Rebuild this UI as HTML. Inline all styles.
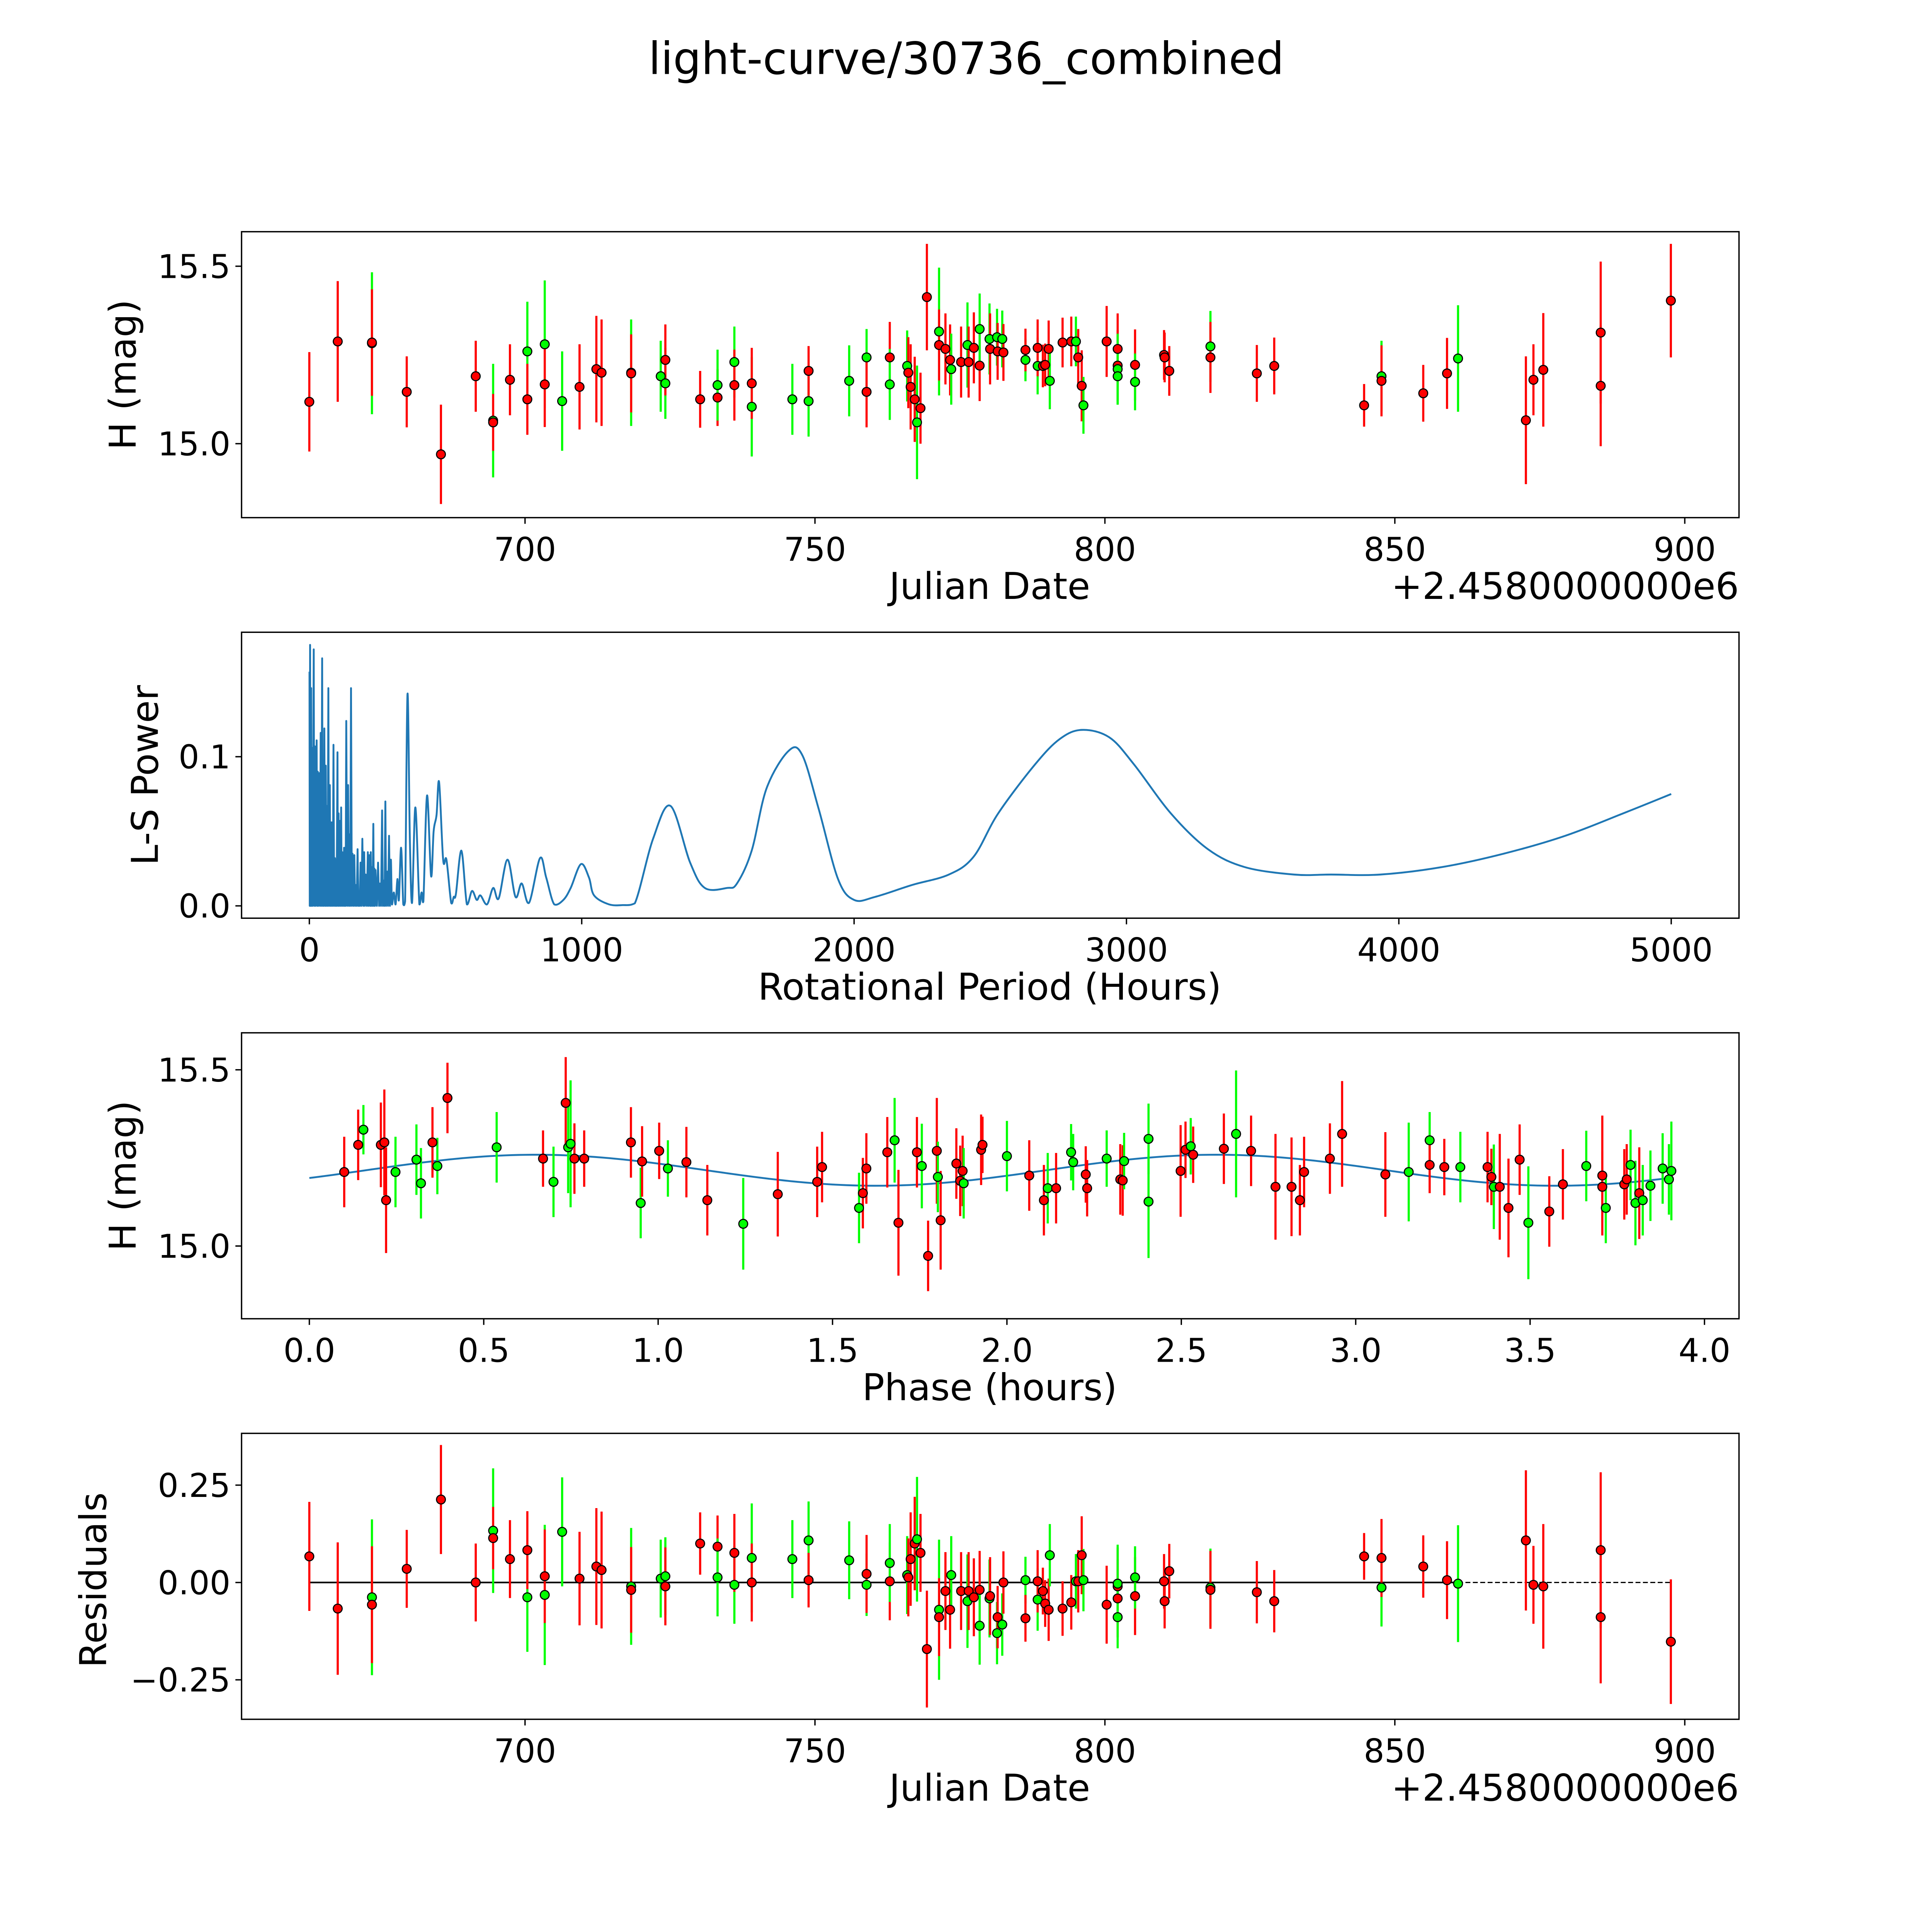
<!DOCTYPE html>
<html><head><meta charset="utf-8"><style>
html,body{margin:0;padding:0;background:#fff;overflow:hidden}
svg{display:block}
text{font-family:"DejaVu Sans","Liberation Sans",sans-serif;fill:#000}
</style></head><body>
<svg id="fig" xmlns="http://www.w3.org/2000/svg" width="5400" height="5400" viewBox="0 0 1693 1693">
<rect x="0" y="0" width="1693" height="1693" fill="#fff"/>
<text x="784" y="60" font-size="36" text-anchor="middle">light-curve/30736_combined</text>
</svg>
<script>
// ---------- Panel 1: light curve ----------
const lcDates=[662.8,667.7,673.6,673.6,679.6,685.5,691.5,694.5,694.5,697.4,700.4,700.4,703.4,703.4,706.4,709.4,712.3,713.2,718.3,718.3,723.4,724.2,724.2,730.2,733.2,733.2,736.1,736.1,739.1,739.1,746.1,748.9,748.9,755.9,758.9,758.9,762.9,762.9,765.9,766.1,766.5,767.2,767.6,768.2,769.3,771.4,771.4,772.5,773.3,773.5,775.2,776.3,776.5,777.4,778.4,778.4,780.1,780.2,781.4,781.5,782.3,782.5,786.3,786.3,788.4,788.4,789.3,789.7,790.3,790.5,792.7,794.2,795,795.4,796,796.3,800.3,802.2,802.2,802.2,802.2,805.2,805.2,810.2,810.3,811.1,818.2,818.2,826.2,829.2,844.7,847.7,847.7,854.9,859,860.9,872.6,873.9,875.6,885.5,885.5,897.6];
const lcMags=[15.118,15.288,15.283,15.285,15.146,14.97,15.19,15.065,15.06,15.18,15.26,15.125,15.28,15.167,15.12,15.16,15.21,15.2,15.2,15.198,15.19,15.17,15.236,15.125,15.13,15.165,15.23,15.165,15.104,15.17,15.125,15.12,15.205,15.177,15.243,15.146,15.243,15.167,15.219,15.2,15.16,15.125,15.06,15.1,15.413,15.316,15.278,15.267,15.236,15.21,15.23,15.278,15.23,15.27,15.22,15.323,15.295,15.267,15.3,15.26,15.295,15.257,15.236,15.264,15.219,15.27,15.219,15.222,15.267,15.177,15.285,15.288,15.288,15.243,15.163,15.108,15.288,15.22,15.267,15.21,15.19,15.222,15.174,15.25,15.243,15.205,15.274,15.243,15.198,15.219,15.108,15.19,15.177,15.142,15.198,15.24,15.066,15.18,15.208,15.313,15.163,15.403];
const lcErrs=[.14,.17,.2,.15,.1,.14,.1,.16,.08,.1,.14,.1,.18,.12,.14,.12,.15,.15,.15,.11,.1,.1,.1,.08,.08,.1,.1,.1,.14,.1,.1,.1,.07,.1,.08,.1,.1,.1,.1,.1,.12,.12,.16,.1,.15,.18,.1,.1,.1,.1,.1,.12,.1,.1,.1,.1,.1,.1,.08,.08,.08,.08,.06,.06,.08,.08,.06,.06,.08,.08,.07,.07,.07,.08,.1,.08,.1,.1,.1,.1,.08,.1,.08,.07,.07,.07,.1,.1,.08,.08,.06,.1,.1,.08,.1,.15,.18,.1,.16,.2,.17,.16];
const lcFilters="rrgrrrrgrrgrgrgrrrgrggrrrggrgrggrggrrggrrrgrrgrrrgrgrrrggrgrgrgrgrrrrgrrgrrgrrrggrgrrrgrrrrgrrrgrrrrrr".split('');
const residuals=[.067,-.067,-.038,-.057,.035,.213,0,.133,.114,.06,-.038,.083,-.032,.016,.13,.01,.041,.032,-.01,-.019,.01,.016,-.01,.1,.092,.013,-.006,.076,.063,0,.06,.108,.006,.057,-.006,.022,.003,.05,.019,.013,.06,.1,.111,.076,-.171,-.07,-.089,-.022,-.07,.019,-.022,-.048,-.022,-.038,-.019,-.111,-.041,-.035,-.13,-.089,-.108,0,.006,-.092,-.044,.003,-.022,-.054,-.07,.07,-.067,-.051,.003,.003,.07,.006,-.057,-.01,-.041,-.003,-.089,-.035,.013,.003,-.048,.029,-.013,-.019,-.025,-.048,.067,-.013,.063,.041,.006,-.003,.108,-.006,-.01,.083,-.089,-.152];
// ---------- Panel 2: periodogram ----------
const lsPeriods=[0.5,1.5,2.7,4.5,6.7,8,9.4,12,16.1,18,20.1,23,26.8,29,30.9,33,36.2,39,41.6,44,47,49,51,53,55,58,60.4,62,64.4,67,69.8,72,75.2,77,79.2,81,83.2,86,88.6,91,93.9,96,98,100,103.3,105,107.4,109,111.4,114,116.8,119,120.8,124,127.5,129,131.5,133,135.5,139,142.3,145,147.6,150,153,156,158.4,162,165.1,168,170.4,174,177.1,180,182.5,185,187.9,191,194.6,198,201.3,204,206.7,211,214.7,217,220.1,223,225.5,227,229.5,232,234.9,237,238.9,241,242.9,248,252.3,256,259,263,267.1,270,273.8,276,279.1,282,285.8,289,292.6,296,299.3,303.3,310,316.7,323.4,328.8,336.8,344.9,351.6,360.3,369.1,377.1,389.2,403.9,412,418.7,432.1,446.9,456.3,467,476.4,491.2,503.3,520.7,530.1,538.1,558.3,578.4,597.2,614.6,628.1,652.2,675,695.2,727.4,756.9,779.7,806.5,846.8,869.6,899.1,932.7,959.5,997.1,1026.6,1045.4,1100,1150,1195,1262,1326,1398,1452,1534,1570,1624,1679,1760,1810,1870,1941,2000,2077,2213,2348,2439,2529,2665,2756,2837,2937,3027,3163,3299,3434,3615,3751,3932,4158,4385,4611,4837,5000];
const lsPower=[0.157,0.0,0.175,0.0,0.146,0.0,0.106,0.0,0.172,0.0,0.107,0.0,0.111,0.0,0.090,0.0,0.089,0.0,0.116,0.0,0.166,0.0,0.095,0.0,0.119,0.0,0.094,0.0,0.067,0.0,0.146,0.0,0.081,0.0,0.056,0.0,0.056,0.0,0.108,0.0,0.032,0.0,0.031,0.0,0.103,0.0,0.062,0.0,0.057,0.0,0.066,0.0,0.036,0.0,0.039,0.0,0.031,0.0,0.124,0.0,0.081,0.0,0.048,0.0,0.146,0.0,0.035,0.0,0.034,0.0,0.014,0.0,0.038,0.0,0.008,0.0,0.029,0.0,0.045,0.0,0.036,0.0,0.021,0.0,0.036,0.0,0.034,0.0,0.036,0.0,0.026,0.0,0.055,0.0,0.025,0.0,0.024,0.0,0.029,0.0,0.015,0.0,0.064,0.0,0.017,0.0,0.070,0.0,0.023,0.0,0.047,0.0,0.031,0.001,0.009,0.001,0.018,0.004,0.039,0.001,0.003,0.142,0.044,0.002,0.066,0.001,0.009,0.003,0.074,0.020,0.050,0.061,0.083,0.031,0.031,0.002,0.006,0.008,0.037,0.001,0.010,0.004,0.007,0.001,0.012,0.005,0.031,0.006,0.015,0.002,0.032,0.019,0.001,0.004,0.012,0.028,0.019,0.007,0.001,0.0005,0.0017,0.045,0.067,0.029,0.012,0.012,0.015,0.037,0.079,0.104,0.101,0.065,0.018,0.004,0.006,0.014,0.021,0.033,0.062,0.095,0.112,0.118,0.113,0.095,0.062,0.038,0.026,0.021,0.021,0.021,0.026,0.035,0.047,0.063,0.075];
const lsSpikyLimit=300; // periods below this are drawn as raw spikes, above as smooth curve
// ---------- Panel 3: phased ----------
const phases=[.10,.14,.155,.205,.215,.22,.247,.307,.32,.353,.367,.396,.537,.67,.70,.735,.742,.749,.76,.788,.922,.95,.954,1.003,1.028,1.081,1.141,1.244,1.343,1.456,1.47,1.576,1.587,1.597,1.657,1.678,1.689,1.742,1.756,1.774,1.799,1.802,1.81,1.855,1.866,1.873,1.876,1.926,1.93,2.0,2.064,2.106,2.117,2.141,2.184,2.19,2.226,2.23,2.286,2.325,2.332,2.336,2.406,2.406,2.498,2.512,2.527,2.534,2.622,2.657,2.7,2.77,2.816,2.84,2.852,2.926,2.961,3.085,3.152,3.212,3.212,3.254,3.3,3.378,3.389,3.396,3.413,3.438,3.47,3.495,3.555,3.594,3.661,3.707,3.707,3.717,3.77,3.777,3.788,3.802,3.813,3.823,3.845,3.88,3.898,3.905];
const phMags=[15.21,15.287,15.33,15.287,15.294,15.13,15.21,15.245,15.178,15.294,15.227,15.42,15.28,15.248,15.182,15.406,15.28,15.29,15.248,15.248,15.294,15.122,15.24,15.27,15.22,15.238,15.13,15.063,15.147,15.182,15.224,15.108,15.15,15.22,15.266,15.3,15.066,15.266,15.227,14.972,15.27,15.196,15.073,15.234,15.185,15.213,15.178,15.273,15.287,15.255,15.2,15.13,15.164,15.164,15.266,15.238,15.203,15.164,15.248,15.189,15.186,15.241,15.304,15.126,15.213,15.273,15.283,15.259,15.276,15.318,15.27,15.168,15.168,15.13,15.21,15.248,15.318,15.203,15.21,15.3,15.23,15.224,15.224,15.224,15.196,15.168,15.168,15.108,15.245,15.066,15.098,15.175,15.227,15.2,15.168,15.108,15.175,15.189,15.23,15.122,15.15,15.13,15.171,15.22,15.189,15.213];
const phErrs=[.1,.1,.07,.12,.15,.15,.1,.1,.1,.1,.08,.1,.1,.08,.1,.13,.13,.18,.1,.08,.1,.1,.1,.08,.08,.1,.1,.13,.12,.1,.1,.1,.1,.1,.1,.12,.15,.1,.12,.1,.15,.1,.14,.1,.1,.1,.1,.1,.08,.1,.1,.1,.1,.1,.08,.08,.08,.08,.08,.1,.1,.08,.1,.16,.13,.08,.08,.08,.1,.18,.1,.15,.14,.1,.1,.1,.15,.12,.14,.08,.08,.08,.1,.1,.08,.12,.15,.14,.1,.16,.1,.1,.1,.17,.1,.1,.1,.1,.1,.12,.13,.1,.1,.1,.1,.14];
const phFilters="rrgrrrgggrgrgrgrggrrrgrrgrrgrrrgrrrgrrgrrgrrrrgrrgrrgrggrrgrrgggrrgrrgrrrrrrrrggrrgrrgrrrgrrgrrgrrggrgggggr".split('');
const modelParams=[15.215,0.044,1.95,0.1625]; // mean, amplitude, period, phase offset
const modelSamples=[0,4];

const NS="http://www.w3.org/2000/svg";
const svg=document.getElementById('fig');
function mk(tag,attrs,parent){const e=document.createElementNS(NS,tag);for(const k in attrs)e.setAttribute(k,attrs[k]);(parent||svg).appendChild(e);return e;}
function lin(d0,d1,p0,p1){return v=>p0+(v-d0)*(p1-p0)/(d1-d0);}
const COL={r:'#ff0000',g:'#00ff00'};
const TICK_FS=26.5, LABEL_FS=30;

function axesBox(name){
  const g=mk('g',{});
  
  
  return g;
}
function frame(g,x0,y0,x1,y1){
  const r=mk('rect',{x:x0,y:y0,width:x1-x0,height:y1-y0,fill:'none',stroke:'#000','stroke-width':1.1},g);
  
  
}
function xTicks(g,vals,labels,sx,yb){
  vals.forEach((v,i)=>{const x=sx(v);
    mk('line',{x1:x,x2:x,y1:yb,y2:yb+5,stroke:'#000','stroke-width':1.1},g);
    const t=mk('text',{x:x,y:yb+35,'font-size':TICK_FS,'text-anchor':'middle'},g);
    
    
    t.textContent=labels[i];});
}
function yTicks(g,vals,labels,sy,xl){
  vals.forEach((v,i)=>{const y=sy(v);
    mk('line',{x1:xl-5,x2:xl,y1:y,y2:y,stroke:'#000','stroke-width':1.1},g);
    const t=mk('text',{x:xl-9,y:y+9.5,'font-size':TICK_FS,'text-anchor':'end'},g);
    
    
    t.textContent=labels[i];});
}
function xLabel(g,txt,x,y,anchor,name){const t=mk('text',{x:x,y:y,'font-size':LABEL_FS,'text-anchor':anchor||'middle'},g);
  
  
  t.textContent=txt;}
function yLabel(g,txt,x,y){const t=mk('text',{x:0,y:0,'font-size':LABEL_FS,'text-anchor':'middle',transform:`translate(${x},${y}) rotate(-90)`},g);
  
  
  t.textContent=txt;}
function scatter(g,xs,ys,es,cs,sx,sy,clip){
  const n=Math.min(xs.length,ys.length);
  const bars=mk('g',{'clip-path':clip},g);
  for(let i=0;i<n;i++){const x=sx(xs[i]),e=es[i]||0.1;
    const l=mk('line',{x1:x,x2:x,y1:sy(ys[i]-e),y2:sy(ys[i]+e),stroke:COL[cs[i]||'r'],'stroke-width':1.75},bars);
    
    }
  const pts=mk('g',{'clip-path':clip},g);
  for(let i=0;i<n;i++){
    const c=mk('circle',{cx:sx(xs[i]),cy:sy(ys[i]),r:3.6,fill:COL[cs[i]||'r'],stroke:'#000','stroke-width':0.9},pts);
    
    }
}
function clipRect(id,x0,y0,x1,y1){const d=mk('defs',{});const cp=mk('clipPath',{id:id},d);mk('rect',{x:x0,y:y0,width:x1-x0,height:y1-y0},cp);return `url(#${id})`;}

const X0=196,X1=1411;
const dateX=lin(700,900,426,1367);
// Panel 1
{const y0=188,y1=420;const sy=lin(15,15.5,360,216);
 const g=axesBox('light-curve-panel');
 const cl=clipRect('c1',X0,y0,X1,y1);
 scatter(g,lcDates,lcMags,lcErrs,lcFilters,dateX,sy,cl);
 frame(g,X0,y0,X1,y1);
 xTicks(g,[700,750,800,850,900],['700','750','800','850','900'],dateX,y1);
 yTicks(g,[15.0,15.5],['15.0','15.5'],sy,X0);
 xLabel(g,'Julian Date',803,486);
 xLabel(g,'+2.4580000000e6',X1,486,'end','x-offset-text');
 yLabel(g,'H (mag)',110,304);}
// Panel 2
{const y0=513,y1=745;const sx=lin(0,5000,251,1356),sy=lin(0,0.1,735,614);
 const g=axesBox('periodogram-panel');
 const n=Math.min(lsPeriods.length,lsPower.length);
 const P=[];for(let i=0;i<n;i++)P.push([sx(lsPeriods[i]),sy(lsPower[i]),lsPeriods[i]]);
 let d='M'+P[0][0].toFixed(2)+','+P[0][1].toFixed(2);
 for(let i=1;i<n;i++){
   if(P[i][2]<=lsSpikyLimit){d+='L'+P[i][0].toFixed(2)+','+P[i][1].toFixed(2);continue;}
   const p0=P[Math.max(i-2,0)],p1=P[i-1],p2=P[i],p3=P[Math.min(i+1,n-1)];
   const c1x=p1[0]+(p2[0]-p0[0])/6,c1y=p1[1]+(p2[1]-p0[1])/6;
   const c2x=p2[0]-(p3[0]-p1[0])/6,c2y=p2[1]-(p3[1]-p1[1])/6;
   d+='C'+c1x.toFixed(2)+','+Math.min(c1y,735).toFixed(2)+' '+c2x.toFixed(2)+','+Math.min(c2y,735).toFixed(2)+' '+p2[0].toFixed(2)+','+p2[1].toFixed(2);
 }
 const p=mk('path',{d:d,fill:'none',stroke:'#1f77b4','stroke-width':1.5,'stroke-linejoin':'round'},g);
 
 
 frame(g,X0,y0,X1,y1);
 xTicks(g,[0,1000,2000,3000,4000,5000],['0','1000','2000','3000','4000','5000'],sx,y1);
 yTicks(g,[0,0.1],['0.0','0.1'],sy,X0);
 xLabel(g,'Rotational Period (Hours)',803,811);
 yLabel(g,'L-S Power',128,629);}
// Panel 3
{const y0=838,y1=1070;const sx=lin(0,4,251,1383),sy=lin(15,15.5,1011,868);
 const g=axesBox('phased-curve-panel');
 const [m,a,Pd,off]=modelParams;
 let d='';const N=200;for(let i=0;i<=N;i++){const ph=modelSamples[0]+(modelSamples[1]-modelSamples[0])*i/N;if(ph>phases[phases.length-1])break;
   const v=m+a*Math.sin(2*Math.PI*(ph-off)/Pd);d+=(i?'L':'M')+sx(ph).toFixed(2)+','+sy(v).toFixed(2);}
 const p=mk('path',{d:d,fill:'none',stroke:'#1f77b4','stroke-width':1.5},g);
 
 
 const cl=clipRect('c3',X0,y0,X1,y1);
 scatter(g,phases,phMags,phErrs,phFilters,sx,sy,cl);
 frame(g,X0,y0,X1,y1);
 xTicks(g,[0,0.5,1,1.5,2,2.5,3,3.5,4],['0.0','0.5','1.0','1.5','2.0','2.5','3.0','3.5','4.0'],sx,y1);
 yTicks(g,[15.0,15.5],['15.0','15.5'],sy,X0);
 xLabel(g,'Phase (hours)',803,1136);
 yLabel(g,'H (mag)',110,954);}
// Panel 4
{const y0=1163,y1=1395;const sy=lin(0,0.25,1284,1205);
 const g=axesBox('residuals-panel');
 const solidEnd=860.9;
 const l1=mk('line',{x1:dateX(lcDates[0]),x2:dateX(solidEnd),y1:sy(0),y2:sy(0),stroke:'#000','stroke-width':1.3},g);
 
 
 const l2=mk('line',{x1:dateX(solidEnd),x2:dateX(lcDates[lcDates.length-1]),y1:sy(0),y2:sy(0),stroke:'#000','stroke-width':1,'stroke-dasharray':'4,2'},g);
 
 
 const cl=clipRect('c4',X0,y0,X1,y1);
 scatter(g,lcDates,residuals,lcErrs,lcFilters,dateX,sy,cl);
 frame(g,X0,y0,X1,y1);
 xTicks(g,[700,750,800,850,900],['700','750','800','850','900'],dateX,y1);
 yTicks(g,[0.25,0,-0.25],['0.25','0.00','\u22120.25'],sy,X0);
 xLabel(g,'Julian Date',803,1461);
 xLabel(g,'+2.4580000000e6',X1,1461,'end','x-offset-text');
 yLabel(g,'Residuals',86,1282);}
</script>
</body></html>
